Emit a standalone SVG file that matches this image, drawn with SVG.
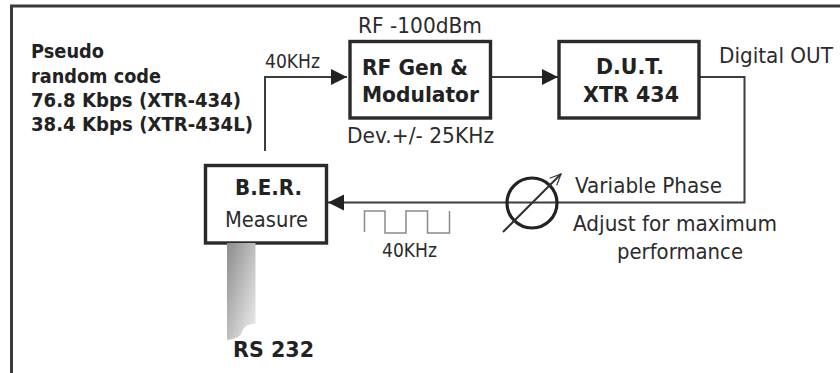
<svg xmlns="http://www.w3.org/2000/svg" width="840" height="373" viewBox="0 0 840 373">
<style>
text{font-family:"DejaVu Sans","Liberation Sans",sans-serif;font-size:21.500px;fill:#2b2b2b}
.b{font-weight:700;fill:#222}
.s{font-size:20px}
.box{fill:#fff;stroke:#2a2a2a;stroke-width:3.4}
.ln{fill:none;stroke:#3c3c3c;stroke-width:2}
</style>
<defs>
<marker id="ah" markerUnits="userSpaceOnUse" markerWidth="17" markerHeight="18" refX="16" refY="9" orient="auto"><path d="M0 1L16 9L0 17Z" fill="#222"/></marker>
<marker id="oa" markerUnits="userSpaceOnUse" markerWidth="14" markerHeight="14" refX="12" refY="6" orient="auto"><path d="M1 1L12 6L1 11" fill="none" stroke="#333" stroke-width="1.2"/></marker>
<linearGradient id="g" x1="0" y1="0" x2="1" y2="1"><stop offset="0" stop-color="#8c8c8c"/><stop offset="1" stop-color="#f0f0f0"/></linearGradient>
</defs>
<rect width="840" height="373" fill="#fff"/>
<path id="frame" d="M11.500 373V6H840" fill="none" stroke="#3a3a3a" stroke-width="3"/>
<g id="connectors">
<path class="ln" d="M265 151V77H347" marker-end="url(#ah)"/>
<path class="ln" d="M491 77H558" marker-end="url(#ah)"/>
<path class="ln" d="M699 77H744.500V202.500H328" marker-end="url(#ah)"/>
</g>
<g id="rf-gen"><rect class="box" x="350" y="41.500" width="140.500" height="76.500"/>
<text class="b" x="362" y="75" textLength="106" lengthAdjust="spacingAndGlyphs">RF Gen &amp;</text>
<text class="b" x="362" y="102" textLength="117" lengthAdjust="spacingAndGlyphs">Modulator</text></g>
<g id="dut"><rect class="box" x="559" y="41.500" width="140" height="76.500"/>
<text class="b" x="596" y="74" textLength="68" lengthAdjust="spacingAndGlyphs">D.U.T.</text>
<text class="b" x="583" y="102" textLength="96" lengthAdjust="spacingAndGlyphs">XTR 434</text></g>
<g id="ber"><rect class="box" x="205.500" y="165.500" width="121" height="77.500"/>
<text class="b" x="235" y="195" textLength="67" lengthAdjust="spacingAndGlyphs">B.E.R.</text>
<text x="225" y="227" textLength="83" lengthAdjust="spacingAndGlyphs">Measure</text></g>
<g id="phase">
<circle cx="532" cy="203" r="25" fill="none" stroke="#222" stroke-width="3.2"/>
<path d="M503 232L561 174" fill="none" stroke="#333" stroke-width="2" marker-end="url(#oa)"/>
</g>
<g id="rs232">
<path d="M227 243H255.500V324C248 324 244 326 242 332C240 337 236 339 227 340Z" fill="url(#g)"/>
</g>
<path id="wave" d="M364.500 232V211H385V233H406V211H427.500V233H449.500V211" fill="none" stroke="#8a8a8a" stroke-width="1.500"/>
<g id="labels">
<text class="b s" x="31" y="58" textLength="73" lengthAdjust="spacingAndGlyphs">Pseudo</text>
<text class="b s" x="31" y="83" textLength="130" lengthAdjust="spacingAndGlyphs">random code</text>
<text class="b s" x="31" y="107" textLength="210" lengthAdjust="spacingAndGlyphs">76.8 Kbps (XTR-434)</text>
<text class="b s" x="31" y="131" textLength="222" lengthAdjust="spacingAndGlyphs">38.4 Kbps (XTR-434L)</text>
<text class="s" x="265" y="68" textLength="55" lengthAdjust="spacingAndGlyphs">40KHz</text>
<text x="358" y="33" textLength="124" lengthAdjust="spacingAndGlyphs">RF -100dBm</text>
<text x="347" y="143" textLength="147" lengthAdjust="spacingAndGlyphs">Dev.+/- 25KHz</text>
<text x="719" y="63" textLength="114" lengthAdjust="spacingAndGlyphs">Digital OUT</text>
<text x="575" y="193" textLength="147" lengthAdjust="spacingAndGlyphs">Variable Phase</text>
<text x="573" y="231" textLength="204" lengthAdjust="spacingAndGlyphs">Adjust for maximum</text>
<text x="617" y="259" textLength="126" lengthAdjust="spacingAndGlyphs">performance</text>
<text class="s" x="382" y="257" textLength="55" lengthAdjust="spacingAndGlyphs">40KHz</text>
<text class="b" x="233" y="357" textLength="81" lengthAdjust="spacingAndGlyphs">RS 232</text>
</g>
</svg>
